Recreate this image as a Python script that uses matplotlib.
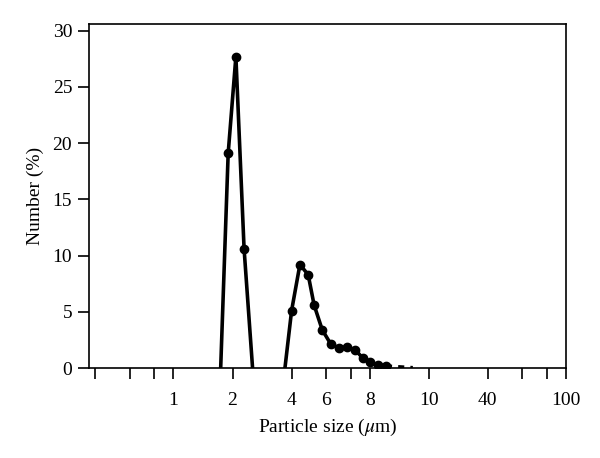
import numpy as np
import matplotlib.pyplot as plt

plt.rcParams['font.family'] = ['Liberation Serif', 'DejaVu Serif']
plt.rcParams['mathtext.fontset'] = 'stix'

# first population (um, %)
size1 = [1.74, 1.90, 2.08, 2.29, 2.53]
num1 = [0.0, 19.1, 27.7, 10.6, 0.0]

# second population
size2 = [3.70, 4.00, 4.41, 4.86, 5.21, 5.73, 6.35, 6.97, 7.69, 8.45,
         9.21, 10.03, 10.99, 12.11]
num2 = [0.0, 5.1, 9.2, 8.3, 5.6, 3.4, 2.1, 1.8, 1.85, 1.6,
        0.9, 0.5, 0.3, 0.2]

# faint tail
size_tail = [12.11, 13.4, 14.9, 16.6]
num_tail = [0.2, 0.15, 0.1, 0.05]

xticks = [0.4, 0.6, 0.8, 1, 2, 4, 6, 8, 10, 20, 40, 60, 80, 100]
xlabels = ['', '', '', '1', '2', '4', '6', '', '8', '10', '40', '', '', '100']

fig = plt.figure(figsize=(6, 4.58), dpi=100)
ax = fig.add_axes([0.148, 0.1965, 0.795, 0.751])

ax.plot(size1, num1, color='black', lw=2.6, marker='o', ms=6,
        markevery=[1, 2, 3])
ax.plot(size2, num2, color='black', lw=2.6, marker='o', ms=6,
        markevery=list(range(1, len(size2))))
ax.plot(size_tail, num_tail, color='black', lw=2.2, ls=(0, (2, 2)))

ax.set_xscale('log')
ax.set_xlim(0.37, 100)
ax.set_ylim(0, 30.6)
ax.set_xticks(xticks)
ax.set_xticklabels(xlabels)
ax.minorticks_off()
ax.set_yticks([0, 5, 10, 15, 20, 25, 30])

ax.tick_params(direction='out', length=8, width=1.2, labelsize=14, pad=4)
ax.tick_params(axis='x', pad=9)
for s in ax.spines.values():
    s.set_linewidth(1.2)

ax.set_xlabel(r'Particle size ($\mu$m)', fontsize=14, labelpad=6)
ax.set_ylabel('Number (%)', fontsize=14, labelpad=6)

fig.savefig('out.png', dpi=100)
